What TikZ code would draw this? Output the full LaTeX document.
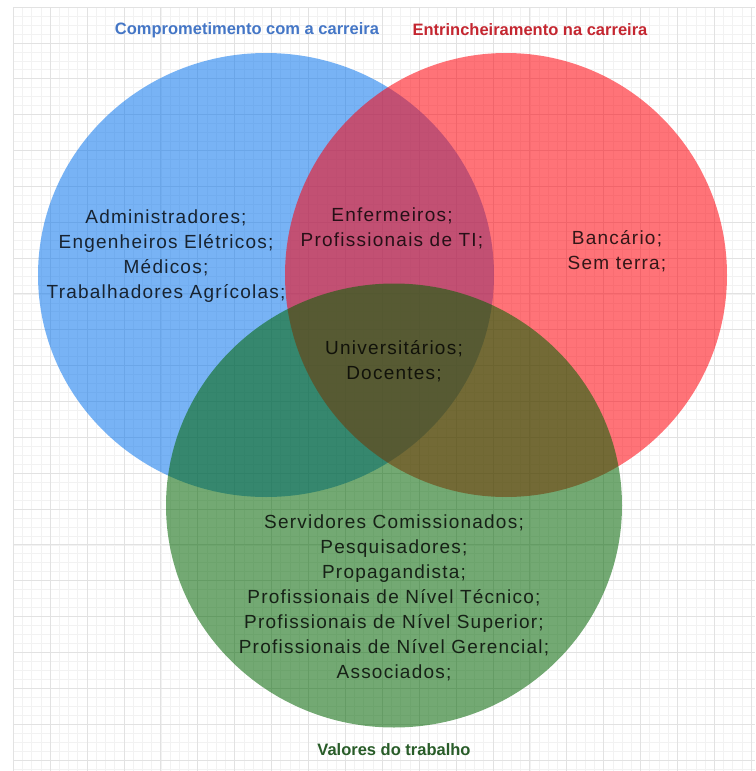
\documentclass[tikz,border=0pt]{standalone}
\usepackage{fontspec}
\setmainfont{Liberation Sans}
\newfontfamily\bodyfont[LetterSpace=6.5]{Liberation Sans}
\definecolor{gridminor}{RGB}{242,242,242}
\definecolor{gridmajor}{RGB}{226,226,226}
\definecolor{cblue}{RGB}{10,118,238}
\definecolor{cred}{RGB}{255,0,10}
\definecolor{cgreen}{RGB}{0,100,0}
\definecolor{tblue}{RGB}{68,118,198}
\definecolor{tred}{RGB}{196,38,48}
\definecolor{tgreen}{RGB}{40,92,40}
\tikzset{
  minorline/.style={draw=gridminor, line width=0.8pt},
  majorline/.style={draw=gridmajor, line width=1pt},
  setfill/.style={fill opacity=0.55, draw=none},
  bodytext/.style={align=center, text=black, text opacity=0.8, inner sep=0pt,
    font=\bodyfont\fontsize{19}{25}\selectfont},
  titletext/.style={inner sep=0pt, font=\bfseries\fontsize{16.5}{20}\selectfont}
}
\begin{document}
\begin{tikzpicture}[x=1pt,y=-1pt]
\useasboundingbox (0,0) rectangle (755,771);
\fill[white] (0,0) rectangle (755,771);
% grid
\foreach \i in {0,...,80} {
  \draw[minorline] ({13.3+\i*9.225},7.15) -- ({13.3+\i*9.225},771);
}
\foreach \j in {0,...,85} {
  \draw[minorline] (13.3,{7.15+\j*8.9625}) -- (755,{7.15+\j*8.9625});
}
\foreach \i in {0,...,20} {
  \draw[majorline] ({13.3+\i*36.9},7.15) -- ({13.3+\i*36.9},771);
}
\foreach \j in {0,...,21} {
  \draw[majorline] (13.3,{7.15+\j*35.85}) -- (755,{7.15+\j*35.85});
}
% sets
\fill[setfill, fill=cblue] (266,275) ellipse [x radius=228pt, y radius=222pt];
\fill[setfill, fill=cred] (506,275) ellipse [x radius=221pt, y radius=222pt];
\fill[setfill, fill=cgreen] (394,505.5) ellipse [x radius=228pt, y radius=222pt];
% titles
\node[titletext, text=tblue] (tcomp) at (247,30) {Comprometimento com a carreira};
\node[titletext, text=tred] (tentr) at (530,30) {Entrincheiramento na carreira};
\node[titletext, text=tgreen] (tval) at (394,750) {Valores do trabalho};
% texts
\node[bodytext] (blueonly) at (166,256) {Administradores;\\Engenheiros Elétricos;\\Médicos;\\Trabalhadores Agrícolas;};
\node[bodytext] (bluered) at (392,228) {Enfermeiros;\\Profissionais de TI;};
\node[bodytext] (redonly) at (617,251) {Bancário;\\Sem terra;};
\node[bodytext] (allthree) at (394,361) {Universitários;\\Docentes;};
\node[bodytext] (greenonly) at (394,597.5) {Servidores Comissionados;\\Pesquisadores;\\Propagandista;\\Profissionais de Nível Técnico;\\Profissionais de Nível Superior;\\Profissionais de Nível Gerencial;\\Associados;};
\end{tikzpicture}
\end{document}
